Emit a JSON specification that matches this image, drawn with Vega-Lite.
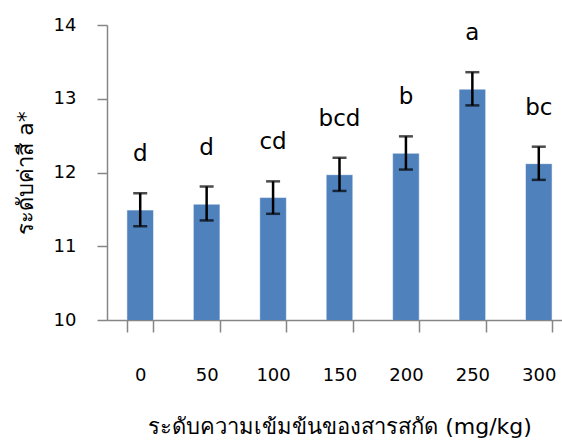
{
  "$schema": "https://vega.github.io/schema/vega-lite/v6.json",
  "width": 455,
  "height": 295,
  "autosize": {"type": "none"},
  "padding": {"left": 107, "top": 25, "right": 0, "bottom": 125},
  "background": "white",
  "config": {"view": {"stroke": null}, "font": "DejaVu Sans"},
  "data": {"values": [
    {"conc": "0", "mean": 11.49, "lower": 11.27, "upper": 11.72, "grp": "d"},
    {"conc": "50", "mean": 11.57, "lower": 11.35, "upper": 11.81, "grp": "d"},
    {"conc": "100", "mean": 11.66, "lower": 11.44, "upper": 11.88, "grp": "cd"},
    {"conc": "150", "mean": 11.97, "lower": 11.75, "upper": 12.20, "grp": "bcd"},
    {"conc": "200", "mean": 12.26, "lower": 12.04, "upper": 12.49, "grp": "b"},
    {"conc": "250", "mean": 13.13, "lower": 12.91, "upper": 13.36, "grp": "a"},
    {"conc": "300", "mean": 12.12, "lower": 11.90, "upper": 12.35, "grp": "bc"}
  ]},
  "encoding": {
    "x": {
      "field": "conc", "type": "ordinal", "sort": null,
      "scale": {"range": [0, 465], "paddingInner": 0.6, "paddingOuter": 0.3},
      "axis": {
        "title": "ระดับความเข้มข้นของสารสกัด (mg/kg)",
        "titleFont": "DejaVu Sans", "titleFontSize": 22, "titleFontWeight": "normal", "titleColor": "#000",
        "titlePadding": 32,
        "labelAngle": 0, "labelFontSize": 18, "labelColor": "#000", "labelPadding": 34,
        "domainColor": "#868686", "tickColor": "#868686", "tickSize": 12, "tickBand": "extent",
        "domainWidth": 1.5, "tickWidth": 1.5
      }
    }
  },
  "layer": [
    {
      "mark": {"type": "bar", "color": "#4F81BD", "stroke": "#ffffff", "strokeWidth": 0.5, "clip": true},
      "encoding": {
        "y": {
          "field": "mean", "type": "quantitative",
          "scale": {"domain": [10, 14], "zero": false, "nice": false},
          "axis": {
            "title": "ระดับค่าสี a*", "titleFont": "DejaVu Sans", "titleFontSize": 22, "titleFontWeight": "normal", "titleColor": "#000",
            "titlePadding": 16,
            "values": [10, 11, 12, 13, 14], "format": "d", "grid": false,
            "labelFontSize": 18, "labelColor": "#000", "labelPadding": 21,
            "domainColor": "#868686", "tickColor": "#868686", "tickSize": 10,
            "domainWidth": 1.5, "tickWidth": 1.5
          }
        }
      }
    },
    {
      "mark": {"type": "rule", "color": "#000", "strokeWidth": 2.5},
      "encoding": {
        "y": {"field": "lower", "type": "quantitative"},
        "y2": {"field": "upper"}
      }
    },
    {
      "mark": {"type": "tick", "color": "#000", "size": 14, "thickness": 2.5},
      "encoding": {"y": {"field": "lower", "type": "quantitative"}}
    },
    {
      "mark": {"type": "tick", "color": "#000", "size": 14, "thickness": 2.5},
      "encoding": {"y": {"field": "upper", "type": "quantitative"}}
    },
    {
      "mark": {"type": "text", "fontSize": 23, "font": "DejaVu Sans", "color": "#000", "baseline": "alphabetic", "dy": -32},
      "encoding": {
        "y": {"field": "upper", "type": "quantitative"},
        "text": {"field": "grp"}
      }
    }
  ]
}
